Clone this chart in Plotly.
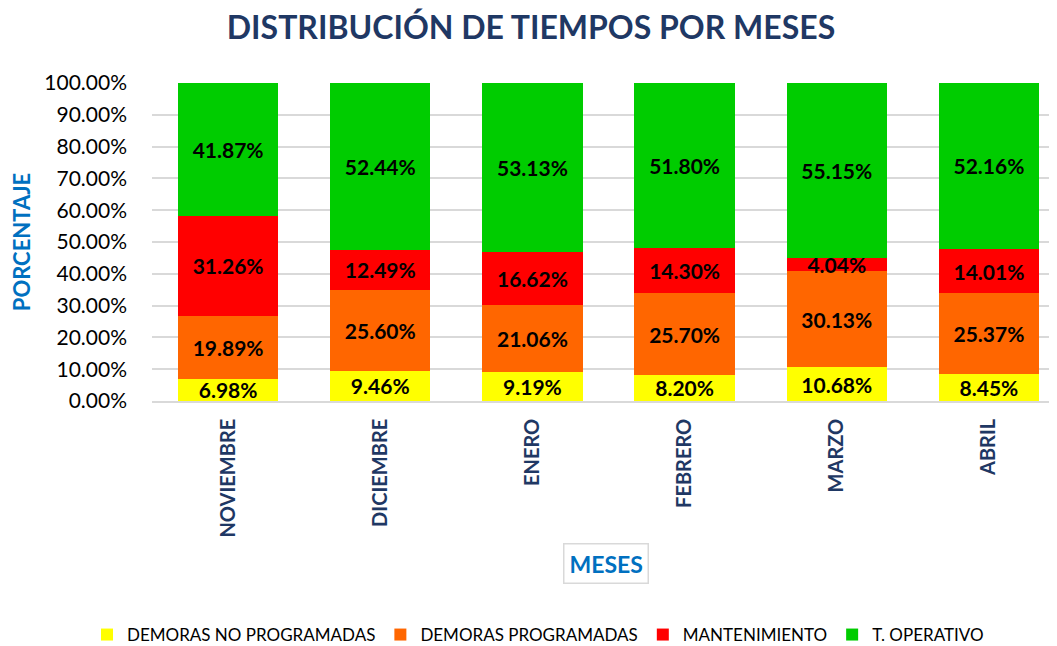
import plotly.graph_objects as go

meses = ["NOVIEMBRE", "DICIEMBRE", "ENERO", "FEBRERO", "MARZO", "ABRIL"]
demoras_no_prog = [6.98, 9.46, 9.19, 8.20, 10.68, 8.45]
demoras_prog = [19.89, 25.60, 21.06, 25.70, 30.13, 25.37]
mantenimiento = [31.26, 12.49, 16.62, 14.30, 4.04, 14.01]
t_operativo = [41.87, 52.44, 53.13, 51.80, 55.15, 52.16]

series = [
    ("DEMORAS NO PROGRAMADAS", demoras_no_prog, "#FFFF00"),
    ("DEMORAS PROGRAMADAS", demoras_prog, "#FF6600"),
    ("MANTENIMIENTO", mantenimiento, "#FF0000"),
    ("T. OPERATIVO", t_operativo, "#00CC00"),
]

FONT = "Lato"
W, H = 1057, 646
L, T, PH = 144, 75, 318
PW = W - L

fig = go.Figure()
for name, vals, color in series:
    fig.add_trace(go.Bar(
        x=meses, y=vals, name=name,
        marker=dict(color=color, line=dict(width=0)),
        texttemplate="%{y:.2f}%",
        textposition="inside",
        insidetextanchor="middle",
        constraintext="none",
        textangle=0,
        textfont=dict(family=FONT, size=21, color="black", weight="bold"),
        width=0.66,
    ))

fig.update_layout(
    barmode="stack",
    width=W, height=H,
    margin=dict(l=L, r=0, t=T, b=H - T - PH),
    plot_bgcolor="white", paper_bgcolor="white",
    font=dict(family=FONT, color="black"),
    title=dict(
        text="<b>DISTRIBUCIÓN DE TIEMPOS POR MESES</b>",
        x=523 / W, xanchor="center", y=1 - 20 / H, yanchor="middle",
        font=dict(family=FONT, size=32, color="#1F3864"),
    ),
    legend=dict(
        orientation="h", xref="container", x=530 / W, xanchor="center",
        yref="container", y=(H - 627) / H, yanchor="middle",
        font=dict(family=FONT, size=17, color="black"),
        traceorder="normal", itemwidth=30,
    ),
    annotations=[dict(
        text="<b>MESES</b>", xref="paper", yref="paper",
        x=(598 - L) / PW, y=-(555 - (T + PH)) / PH, xanchor="center", yanchor="middle",
        showarrow=False, font=dict(family=FONT, size=23, color="#0070C0"),
        bordercolor="#D9D9D9", borderwidth=1.5, borderpad=5,
    )],
)

fig.update_yaxes(
    range=[0, 100], dtick=10, tickformat=".2f", ticksuffix="%",
    showgrid=True, gridcolor="#D9D9D9", gridwidth=1.5, zeroline=False,
    showline=False, ticks="", ticklabelstandoff=24, automargin=False,
    tickfont=dict(family=FONT, size=21, color="black"),
    title=dict(text="<b>PORCENTAJE</b>", standoff=14,
               font=dict(family=FONT, size=22, color="#0070C0")),
)
fig.update_xaxes(
    tickangle=-90, showline=True, linecolor="#D9D9D9", linewidth=1.5,
    ticks="", ticklabelstandoff=8, automargin=False,
    tickfont=dict(family=FONT, size=20, color="#1F3864", weight="bold"),
)

fig.write_html("out.html")
